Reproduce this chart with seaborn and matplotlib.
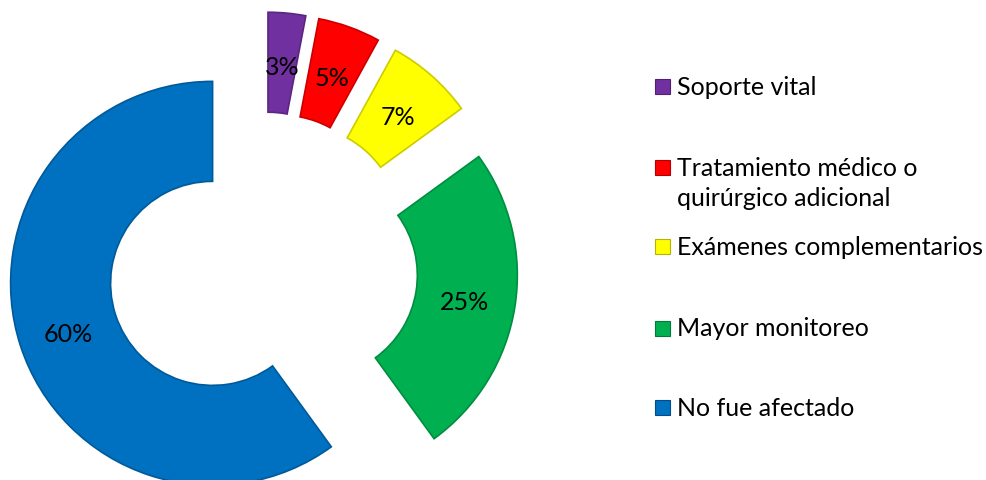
import matplotlib
matplotlib.use("Agg")
import matplotlib.pyplot as plt
import seaborn as sns
from matplotlib.patches import Rectangle
from matplotlib.colors import to_rgb

sns.set_theme(style="white")
plt.rcParams['font.family'] = ['Lato', 'DejaVu Sans']

categories = ["Soporte vital", "Tratamiento médico o\nquirúrgico adicional",
              "Exámenes complementarios", "Mayor monitoreo", "No fue afectado"]
values = [3, 5, 7, 25, 60]
colors = ["#7030A0", "#FF0000", "#FFFF00", "#00B050", "#0070C0"]

W, H = 987, 481
fig = plt.figure(figsize=(W / 100, H / 100), dpi=100)
ax = fig.add_axes([0, 0, 1, 1])

R = 202.0
cx, cy = 263.0, H - 268.0

def darker(c, f=0.75):
    r, g, b = to_rgb(c)
    return (r * f, g * f, b * f)

wedges, texts, autotexts = ax.pie(
    values, colors=colors, startangle=90, counterclock=False,
    explode=[53 / R] * len(values), radius=1.0,
    wedgeprops=dict(width=100 / R, linewidth=1.2),
    autopct=lambda p: f"{p:.0f}%", pctdistance=0.75,
    textprops=dict(fontsize=18, color="black"))
for w, c in zip(wedges, colors):
    w.set_edgecolor(darker(c, 0.8))
for t in autotexts:
    x, y = t.get_position()
    t.set_position((x, y - 3 / R))

ax.set_xlim(-cx / R, (W - cx) / R)
ax.set_ylim(-cy / R, (H - cy) / R)
ax.set_aspect('equal', adjustable='box')
ax.axis('off')

# legend (manual, Excel-style spacing); baseline of first line per entry
baselines = [95, 175.5, 255, 336.5, 416]
line_step = 31.0
for lab, col, yb in zip(categories, colors, baselines):
    fig.patches.append(Rectangle((655 / W, 1 - yb / H), 15 / W, 15 / H,
                                 transform=fig.transFigure, facecolor=col,
                                 edgecolor=darker(col, 0.7), linewidth=0.8))
    lines = lab.split("\n")
    for i, line in enumerate(lines):
        fig.text(677 / W, 1 - (yb + i * line_step) / H, line, fontsize=18,
                 color="black", ha='left', va='baseline')

fig.savefig("out.png", dpi=100, facecolor="white")
